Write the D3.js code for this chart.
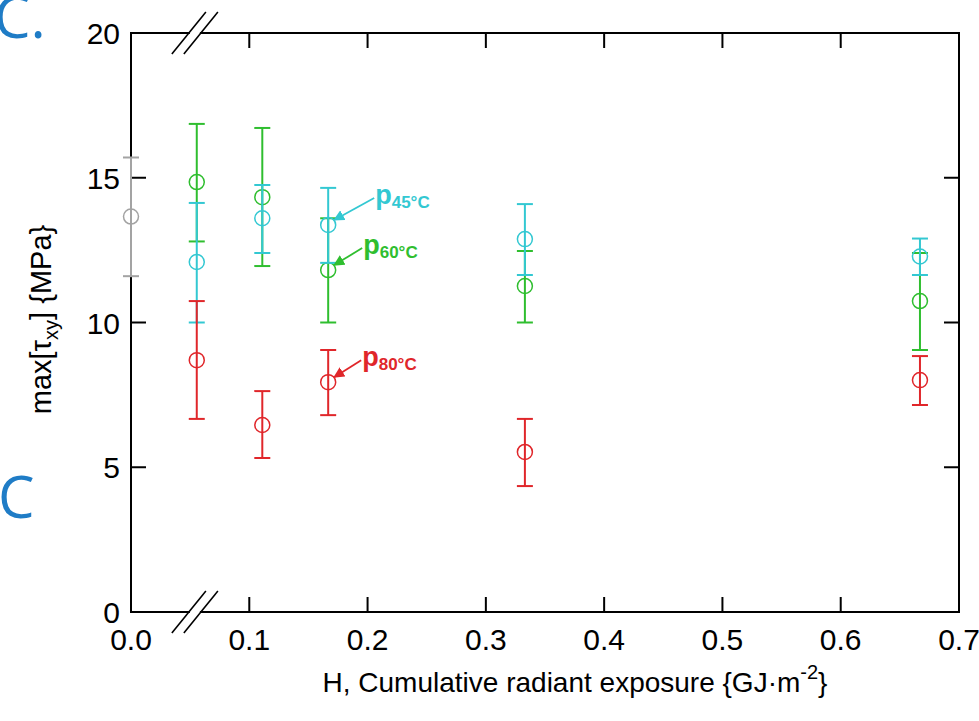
<!DOCTYPE html>
<html>
<head>
<meta charset="utf-8">
<script src="https://cdn.jsdelivr.net/npm/d3@7"></script>
<style>
  html, body { margin: 0; padding: 0; background: #fff; }
  svg { display: block; font-family: "Liberation Sans", Arial, sans-serif; }
</style>
</head>
<body>
<div id="chart"></div>
<script>
// exposure steps {GJ/m2}
const exposure = [0.0556, 0.111, 0.1667, 0.333, 0.667];

// max shear stress {MPa}: mean, lower and upper error bar
const p45Mean = [12.09, 13.6, 13.37, 12.88, 12.28];
const p45Low = [10.0, 12.4, 12.06, 11.64, 11.64];
const p45High = [14.13, 14.75, 14.65, 14.09, 12.9];

const p60Mean = [14.85, 14.33, 11.81, 11.26, 10.74];
const p60Low = [12.8, 11.95, 10.0, 10.0, 9.05];
const p60High = [16.86, 16.72, 13.6, 12.47, 12.4];

const p80Mean = [8.7, 6.46, 7.94, 5.53, 8.01];
const p80Low = [6.67, 5.32, 6.8, 4.35, 7.15];
const p80High = [10.74, 7.63, 9.05, 6.67, 8.84];

// unexposed reference
const refExposure = [0.0];
const refMean = [13.66];
const refLow = [11.6];
const refHigh = [15.7];

const xTicks = [0.0, 0.1, 0.2, 0.3, 0.4, 0.5, 0.6, 0.7];
const yTicks = [0, 5, 10, 15, 20];
const breakAt = 0.054;

const width = 979;
const height = 721;
const margin = { left: 131, right: 20, top: 33, bottom: 109 };

const x = d3.scaleLinear().domain([0, 0.7]).range([margin.left, width - margin.right]);
const y = d3.scaleLinear().domain([0, 20]).range([height - margin.bottom, margin.top]);

const svg = d3.select("#chart").append("svg")
  .attr("width", width)
  .attr("height", height);

// panel letters (cropped from the source figure)
svg.append("text").attr("x", -6).attr("y", 38)
  .attr("font-family", "'Open Sans', sans-serif").attr("font-size", 58)
  .attr("fill", "#1f7cc6").text("C.");
svg.append("text").attr("x", -2).attr("y", 518)
  .attr("font-family", "'Open Sans', sans-serif").attr("font-size", 58)
  .attr("fill", "#1f7cc6").text("C");

// frame ticks, pointing inward
const tickLen = 15;
const axes = svg.append("g").attr("stroke", "#000").attr("stroke-width", 2);
xTicks.slice(1, -1).forEach(t => {
  axes.append("line").attr("x1", x(t)).attr("x2", x(t))
    .attr("y1", y(0)).attr("y2", y(0) - tickLen);
  axes.append("line").attr("x1", x(t)).attr("x2", x(t))
    .attr("y1", y(20)).attr("y2", y(20) + tickLen);
});
yTicks.slice(1, -1).forEach(t => {
  axes.append("line").attr("x1", x(0)).attr("x2", x(0) + tickLen)
    .attr("y1", y(t)).attr("y2", y(t));
  axes.append("line").attr("x1", x(0.7)).attr("x2", x(0.7) - tickLen)
    .attr("y1", y(t)).attr("y2", y(t));
});
axes.append("rect")
  .attr("x", x(0)).attr("y", y(20))
  .attr("width", x(0.7) - x(0)).attr("height", y(0) - y(20))
  .attr("fill", "none");

// axis breaks on top and bottom
[y(0), y(20)].forEach(yy => {
  const bx = x(breakAt);
  svg.append("rect").attr("x", bx - 5).attr("y", yy - 2).attr("width", 10).attr("height", 4)
    .attr("fill", "#fff");
  [-6, 6].forEach(dx => {
    svg.append("line")
      .attr("x1", bx + dx - 17).attr("y1", yy + 21)
      .attr("x2", bx + dx + 17).attr("y2", yy - 21)
      .attr("stroke", "#000").attr("stroke-width", 1.6);
  });
});

// tick labels
svg.append("g").selectAll("text").data(xTicks).join("text")
  .attr("x", d => x(d)).attr("y", y(0) + 38)
  .attr("text-anchor", "middle").attr("font-size", 30)
  .text(d => d.toFixed(1));
svg.append("g").selectAll("text").data(yTicks).join("text")
  .attr("x", x(0) - 11).attr("y", d => y(d) + 11)
  .attr("text-anchor", "end").attr("font-size", 30)
  .text(d => d);

// axis titles
const xt = svg.append("text").attr("x", 575).attr("y", 692)
  .attr("text-anchor", "middle").attr("font-size", 28);
xt.append("tspan").text("H, Cumulative radiant exposure {GJ\u00b7m");
xt.append("tspan").attr("dy", -13).attr("font-size", 20).text("-2");
xt.append("tspan").attr("dy", 13).text("}");

const yt = svg.append("text")
  .attr("transform", `translate(51,${(y(0) + y(20)) / 2 - 3}) rotate(-90)`)
  .attr("text-anchor", "middle").attr("font-size", 29);
yt.append("tspan").text("max[\u03c4");
yt.append("tspan").attr("dy", 7).attr("font-size", 20).text("xy");
yt.append("tspan").attr("dy", -7).text("] {MPa}");

// error bars and markers
const series = [
  { name: "ref", color: "#a3a3a3", h: refExposure, mean: refMean, lo: refLow, hi: refHigh },
  { name: "60", color: "#2fbe2f", h: exposure, mean: p60Mean, lo: p60Low, hi: p60High },
  { name: "45", color: "#33c8d2", h: exposure, mean: p45Mean, lo: p45Low, hi: p45High },
  { name: "80", color: "#e0262a", h: exposure, mean: p80Mean, lo: p80Low, hi: p80High }
];
const cap = 8;
series.forEach(s => {
  const g = svg.append("g").attr("stroke", s.color).attr("stroke-width", 2).attr("fill", "none");
  s.h.forEach((h, i) => {
    const cx = x(h);
    g.append("line").attr("x1", cx).attr("x2", cx).attr("y1", y(s.lo[i])).attr("y2", y(s.hi[i]));
    g.append("line").attr("x1", cx - cap).attr("x2", cx + cap).attr("y1", y(s.lo[i])).attr("y2", y(s.lo[i]));
    g.append("line").attr("x1", cx - cap).attr("x2", cx + cap).attr("y1", y(s.hi[i])).attr("y2", y(s.hi[i]));
    g.append("circle").attr("cx", cx).attr("cy", y(s.mean[i])).attr("r", 7.5).attr("stroke-width", 1.5);
  });
});

// callout labels with arrows
const labels = [
  { sub: "45\u00b0C", color: "#33c8d2", h: exposure[2], v: p45Mean[2], dx: 47, dy: -27 },
  { sub: "60\u00b0C", color: "#2fbe2f", h: exposure[2], v: p60Mean[2], dx: 35, dy: -22 },
  { sub: "80\u00b0C", color: "#e0262a", h: exposure[2], v: p80Mean[2], dx: 34, dy: -22 }
];
const defs = svg.append("defs");
labels.forEach((l, i) => {
  defs.append("marker").attr("id", "arr" + i)
    .attr("viewBox", "0 0 10 10").attr("refX", 9).attr("refY", 5)
    .attr("markerWidth", 11).attr("markerHeight", 11).attr("markerUnits", "userSpaceOnUse")
    .attr("orient", "auto")
    .append("path").attr("d", "M0,0 L10,5 L0,10 z").attr("fill", l.color);
  const px = x(l.h), py = y(l.v);
  svg.append("line")
    .attr("x1", px + l.dx - 1).attr("y1", py + l.dy)
    .attr("x2", px + 6).attr("y2", py - 5)
    .attr("stroke", l.color).attr("stroke-width", 1.8)
    .attr("marker-end", `url(#arr${i})`);
  const t = svg.append("text").attr("x", px + l.dx).attr("y", py + l.dy + 6)
    .attr("fill", l.color).attr("font-weight", "bold").attr("font-size", 27);
  t.append("tspan").text("p");
  t.append("tspan").attr("dy", 4).attr("font-size", 17).text(l.sub);
});
</script>
</body>
</html>
